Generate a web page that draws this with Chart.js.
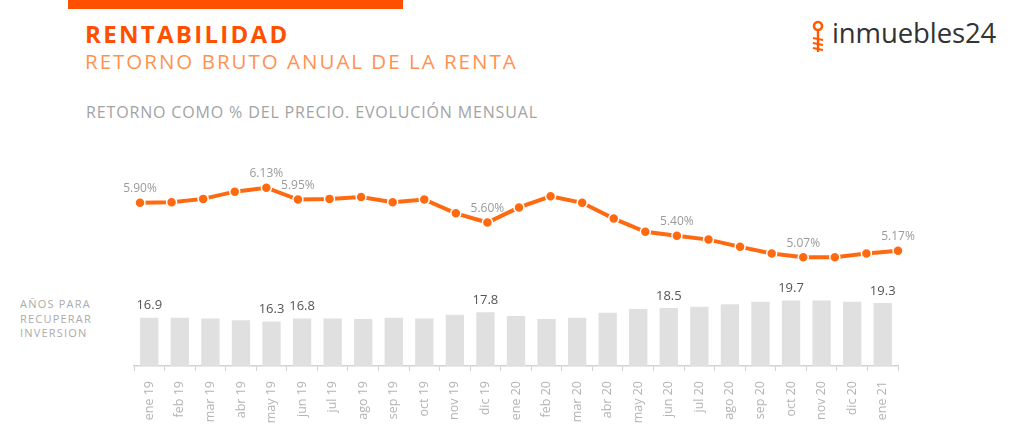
<!DOCTYPE html>
<html>
<head>
<meta charset="utf-8">
<script src="https://cdn.jsdelivr.net/npm/chart.js@4.4.0/dist/chart.umd.min.js"></script>
<style>
	body { margin: 0; background: #fff; font-family: "Open Sans", sans-serif; }
	#page { position: relative; width: 1024px; height: 435px; overflow: hidden; }
	#page canvas { position: absolute; left: 0; top: 0; }
	.txt { position: absolute; white-space: nowrap; line-height: 1; }
	#barra { position: absolute; left: 68px; top: 0; width: 335px; height: 9px; background: #ff5000; }
	#titulo { left: 85px; top: 22px; font-size: 24px; font-weight: 700; color: #ff5000; letter-spacing: 2.3px; }
	#subtitulo { left: 85px; top: 51px; font-size: 20.5px; color: #ff9250; letter-spacing: 2px; }
	#nota { left: 86px; top: 104px; font-size: 16px; color: #a3a3a3; letter-spacing: 0.85px; }
	#anos { left: 20px; top: 297px; font-size: 11px; color: #ababab; line-height: 14.5px; letter-spacing: 1.2px; }
	#logo { left: 832px; top: 19px; font-size: 27.5px; color: #333; letter-spacing: -0.1px; }
	#llave { position: absolute; left: 810px; top: 20px; }
</style>
</head>
<body>
<div id="page">
	<div id="barra"></div>
	<div class="txt" id="titulo">RENTABILIDAD</div>
	<div class="txt" id="subtitulo">RETORNO BRUTO ANUAL DE LA RENTA</div>
	<div class="txt" id="nota">RETORNO COMO % DEL PRECIO. EVOLUCIÓN MENSUAL</div>
	<div class="txt" id="anos">AÑOS PARA<br>RECUPERAR<br>INVERSION</div>
	<svg id="llave" width="18" height="36" viewBox="0 0 18 36">
		<circle cx="8" cy="6" r="4" fill="none" stroke="#ff5a00" stroke-width="2.6"/>
		<line x1="8" y1="10" x2="8" y2="32" stroke="#ff5a00" stroke-width="2.4"/>
		<path d="M3 18 L13 20 M3 23 L13 25 M3 28 L13 30" stroke="#ff5a00" stroke-width="2.2" fill="none"/>
	</svg>
	<div class="txt" id="logo">inmuebles24</div>
	<canvas id="barras" width="1024" height="435"></canvas>
	<canvas id="linea" width="1024" height="435"></canvas>
</div>
<script>
// datos
const meses = [
	"ene 19", "feb 19", "mar 19", "abr 19", "may 19", "jun 19", "jul 19",
	"ago 19", "sep 19", "oct 19", "nov 19", "dic 19", "ene 20", "feb 20",
	"mar 20", "abr 20", "may 20", "jun 20", "jul 20", "ago 20", "sep 20",
	"oct 20", "nov 20", "dic 20", "ene 21",
];

// retorno bruto anual (%)
const retorno = [
	5.90, 5.91, 5.96, 6.07, 6.13, 5.95, 5.96, 5.99, 5.91, 5.95, 5.74, 5.60,
	5.83, 6.00, 5.90, 5.66, 5.46, 5.40, 5.34, 5.23, 5.13, 5.07, 5.07, 5.13, 5.17,
];

// años para recuperar la inversion
const anos = [
	16.9, 16.9, 16.8, 16.5, 16.3, 16.8, 16.8, 16.7, 16.9, 16.8, 17.4, 17.8,
	17.2, 16.7, 16.9, 17.7, 18.3, 18.5, 18.7, 19.1, 19.5, 19.7, 19.7, 19.5, 19.3,
];

// meses que llevan etiqueta
const conEtiqueta = [0, 4, 5, 11, 17, 21, 24];

const naranja = "#ff6a10";

function etiquetas(id, fuente, color, separacion, formato) {
	return {
		id: id,
		afterDatasetsDraw(chart) {
			const ctx = chart.ctx;
			const meta = chart.getDatasetMeta(0);
			const data = chart.data.datasets[0].data;
			ctx.save();
			ctx.font = fuente;
			ctx.fillStyle = color;
			ctx.textAlign = "center";
			ctx.textBaseline = "middle";
			conEtiqueta.forEach((i) => {
				const el = meta.data[i];
				ctx.fillText(formato(data[i]), el.x, el.y - separacion);
			});
			ctx.restore();
		},
	};
}

new Chart("linea", {
	type: "line",
	data: {
		labels: meses,
		datasets: [
			{
				data: retorno,
				borderColor: naranja,
				borderWidth: 4,
				backgroundColor: naranja,
				pointBackgroundColor: naranja,
				pointBorderColor: "#fff",
				pointBorderWidth: 1.5,
				pointRadius: 5,
				tension: 0,
				clip: false,
			},
		],
	},
	options: {
		responsive: false,
		animation: false,
		layout: { padding: { left: 140, right: 126, top: 163.4, bottom: 140.2 } },
		scales: {
			x: { display: false },
			y: { display: false, min: 4.5, max: 6.5 },
		},
		plugins: { legend: { display: false }, tooltip: { enabled: false } },
	},
	plugins: [
		etiquetas("pctLinea", "12px 'Open Sans'", "#9a9a9a", 14, (v) => v.toFixed(2) + "%"),
	],
});

new Chart("barras", {
	type: "bar",
	data: {
		labels: meses,
		datasets: [
			{
				data: anos,
				backgroundColor: "#e0e0e0",
				barPercentage: 0.6,
				categoryPercentage: 1,
			},
		],
	},
	options: {
		responsive: false,
		animation: false,
		layout: { padding: { left: 134, right: 126, top: 291.8, bottom: 0 } },
		scales: {
			x: {
				grid: { drawOnChartArea: false, tickLength: 5, color: "#d2d2d2" },
				border: { color: "#d2d2d2", width: 1.5 },
				ticks: {
					color: "#b4b4b4",
					font: { family: "Open Sans", size: 12.5 },
					minRotation: 90,
					maxRotation: 90,
					padding: 10,
				},
				afterFit(scale) {
					scale.height = 69;
				},
			},
			y: { display: false, min: 9.1, max: 21.1 },
		},
		plugins: { legend: { display: false }, tooltip: { enabled: false } },
	},
	plugins: [
		etiquetas("valBarras", "13px 'Open Sans'", "#555", 12, (v) => v.toFixed(1)),
	],
});
</script>
</body>
</html>
